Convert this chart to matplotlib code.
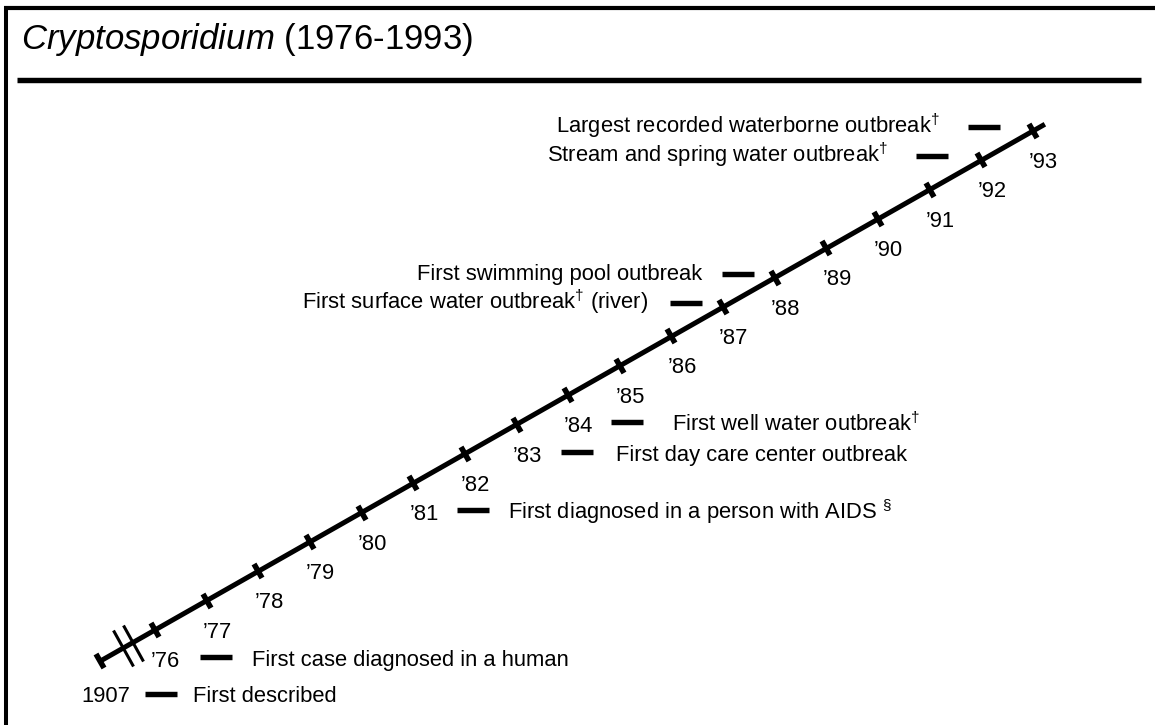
import matplotlib
matplotlib.use("Agg")
import math
import matplotlib.pyplot as plt
from matplotlib.markers import MarkerStyle
from matplotlib.transforms import Affine2D, ScaledTranslation
from matplotlib.lines import Line2D

plt.rcParams['font.family'] = ['Liberation Sans', 'DejaVu Sans']
plt.rcParams['mathtext.fontset'] = 'custom'
plt.rcParams['mathtext.rm'] = 'Liberation Sans'
plt.rcParams['mathtext.it'] = 'Liberation Sans:italic'
plt.rcParams['mathtext.bf'] = 'Liberation Sans:bold'

# ---------------- data ----------------
title_italic = "Cryptosporidium"
title_range = "(1976-1993)"

years = list(range(1976, 1994))
year_labels = ["\u2019" + str(y)[2:] for y in years]

axis_start = 1974.93       # visible start of the broken time axis
axis_end = 1993.23
break_marks = [1975.38, 1975.57]

event_years = [1907, 1976, 1981, 1983, 1984, 1987, 1988, 1992, 1993]
event_labels = [
    "First described",
    "First case diagnosed in a human",
    "First diagnosed in a person with AIDS $^{\\mathrm{\u00a7}}$",
    "First day care center outbreak",
    "First well water outbreak$^{\\mathrm{\u2020}}$",
    "First surface water outbreak$^{\\mathrm{\u2020}}$ (river)",
    "First swimming pool outbreak",
    "Stream and spring water outbreak$^{\\mathrm{\u2020}}$",
    "Largest recorded waterborne outbreak$^{\\mathrm{\u2020}}$",
]
event_side = ["right", "right", "right", "right", "right",
              "left", "left", "left", "left"]

# ---------------- layout (pixel offsets) ----------------
dash_dx = [61, 61, 60, 60, 59, -37, -37, -49, -49]
text_dx = [93, 97, 95, 99, 104, -75, -73, -93, -93]

W, H, DPI = 1155, 725, 100
fig = plt.figure(figsize=(W / DPI, H / DPI), dpi=DPI)
fig.patch.set_facecolor("white")

# axes: year on both x and y so the time line is the diagonal
x0, x1 = 155, 1033
y0, y1 = 630, 131
ax = fig.add_axes([x0 / W, (H - y0) / H, (x1 - x0) / W, (y0 - y1) / H])
ax.set_xlim(years[0], years[-1])
ax.set_ylim(years[0], years[-1])
ax.axis("off")

p0 = ax.transData.transform((years[0], years[0]))
p1 = ax.transData.transform((years[-1], years[-1]))
ang = math.degrees(math.atan2(p1[1] - p0[1], p1[0] - p0[0]))

FS = 15.8
tick_marker = MarkerStyle("|", transform=Affine2D().rotate_deg(ang))

# main line
ax.plot([axis_start, axis_end], [axis_start, axis_end], color="black",
        lw=3.6, solid_capstyle="butt", clip_on=False, zorder=2)
# year ticks + end tick
ax.plot(years + [axis_start], years + [axis_start], ls="none",
        marker=tick_marker, ms=11.5, mew=4.0, color="black", clip_on=False, zorder=3)
# axis break marks
ax.plot(break_marks, break_marks, ls="none", marker=tick_marker, ms=30,
        mew=2.2, color="black", clip_on=False, zorder=3)

# year labels
for y, lab in zip(years, year_labels):
    ax.annotate(lab, (y, y), xytext=(-4, -37), textcoords="offset pixels",
                ha="left", va="baseline", fontsize=FS, annotation_clip=False)


def off(dx, dy):
    return ax.transData + ScaledTranslation(dx / DPI, dy / DPI, fig.dpi_scale_trans)


for yr, lab, side, ddx, tdx in zip(event_years, event_labels, event_side,
                                    dash_dx, text_dx):
    if yr < years[0]:
        anchor = axis_start
        ax.annotate(str(yr), (anchor, anchor), xytext=(-18, -40.5),
                    textcoords="offset pixels", ha="left", va="baseline",
                    fontsize=FS, annotation_clip=False)
        ddy, tdy = -33, -40.5
    else:
        anchor = yr
        if side == "right":
            ddy, tdy = -27, -36
        else:
            ddy, tdy = 4, -2
    ax.plot([anchor], [anchor], ls="none", marker="_", ms=23, mew=3.9,
            color="black", transform=off(ddx, ddy), clip_on=False)
    ax.annotate(lab, (anchor, anchor), xytext=(tdx, tdy),
                textcoords="offset pixels",
                ha="left" if side == "right" else "right", va="baseline",
                fontsize=FS, annotation_clip=False)

# title and frame
fig.text(21 / W, 1 - 49 / H,
         "$\\mathit{" + title_italic + "}$ " + title_range,
         fontsize=25, ha="left", va="baseline")
fig.add_artist(Line2D([4 / W, 1], [1 - 8 / H, 1 - 8 / H], color="black",
                      lw=3.0, solid_capstyle="butt"))
fig.add_artist(Line2D([5.5 / W, 5.5 / W], [0, 1 - 6 / H], color="black",
                      lw=2.9, solid_capstyle="butt"))
fig.add_artist(Line2D([17 / W, 1141 / W], [1 - 80 / H, 1 - 80 / H],
                      color="black", lw=3.9, solid_capstyle="butt"))

fig.savefig("out.png", dpi=DPI, facecolor="white")
